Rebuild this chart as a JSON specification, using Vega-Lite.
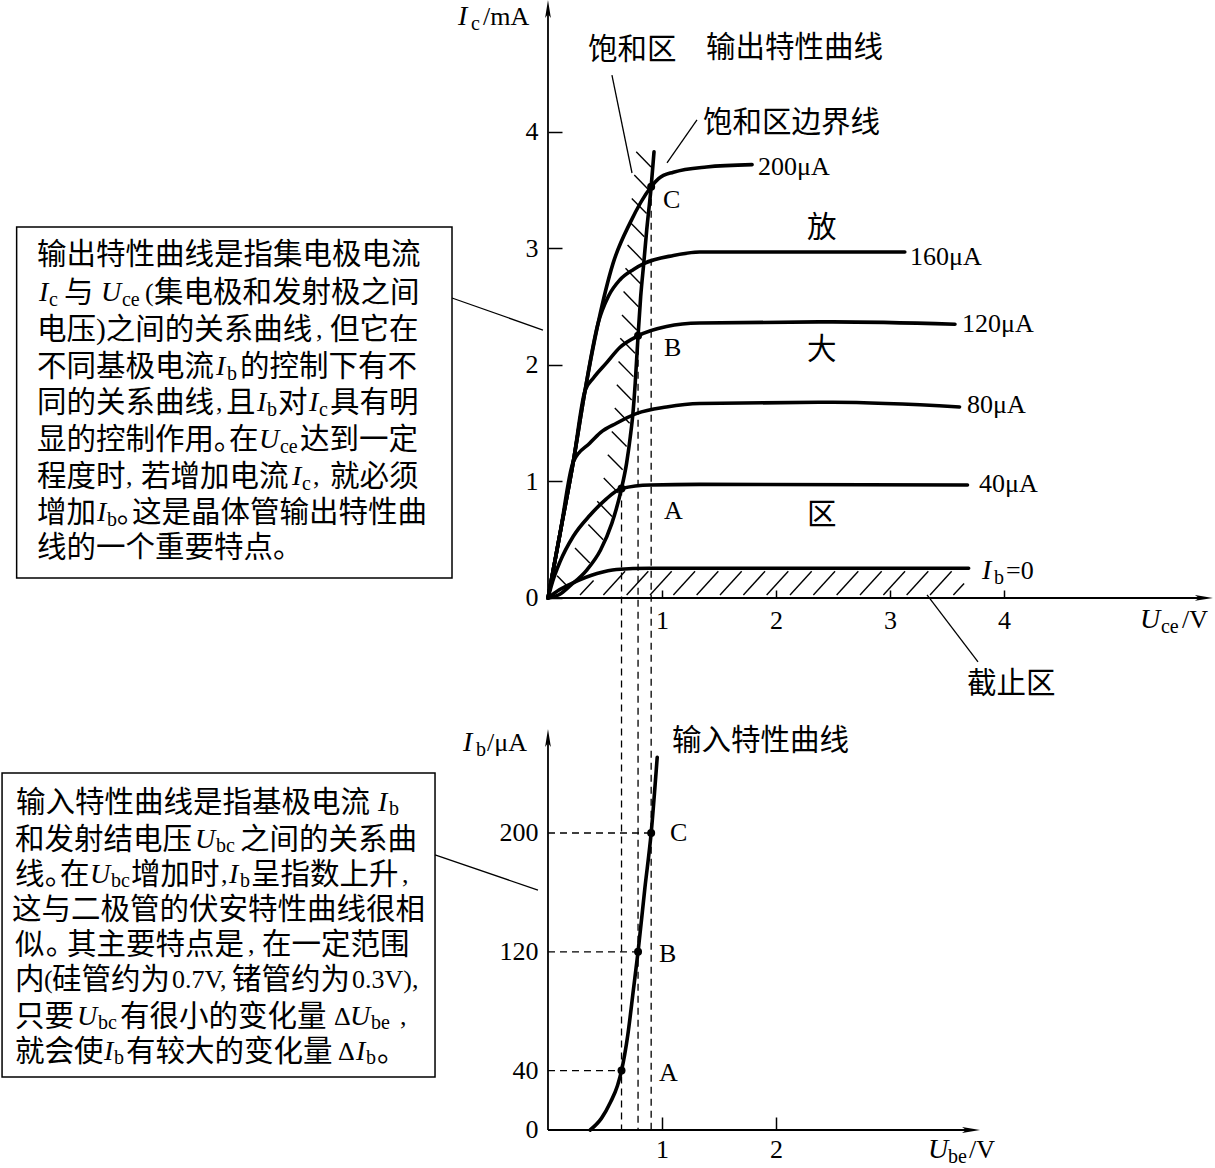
{
"$schema": "https://vega.github.io/schema/vega-lite/v6.json",
"width": 1215, "height": 1168, "autosize": {"type": "none"}, "padding": 0,
"background": "white",
"config": {"view": {"stroke": null}, "axis": {"domain": false, "grid": false, "labelFont": "Liberation Serif", "labelFontSize": 26, "labelColor": "black", "tickColor": "black", "tickWidth": 1.5, "zindex": 1}},
"datasets": {
"curvesTop": [
{"c":"200","x":0,"y":0},{"c":"200","x":0.105,"y":0.55},{"c":"200","x":0.222,"y":1.17},{"c":"200","x":0.325,"y":1.78},{"c":"200","x":0.44,"y":2.36},{"c":"200","x":0.57,"y":2.87},{"c":"200","x":0.72,"y":3.22},{"c":"200","x":0.905,"y":3.53},{"c":"200","x":0.97,"y":3.6},{"c":"200","x":1.1,"y":3.655},{"c":"200","x":1.39,"y":3.7},{"c":"200","x":1.79,"y":3.72},
{"c":"160","x":0,"y":0},{"c":"160","x":0.105,"y":0.55},{"c":"160","x":0.222,"y":1.17},{"c":"160","x":0.325,"y":1.78},{"c":"160","x":0.44,"y":2.36},{"c":"160","x":0.53,"y":2.59},{"c":"160","x":0.63,"y":2.73},{"c":"160","x":0.75,"y":2.82},{"c":"160","x":0.84,"y":2.87},{"c":"160","x":1.1,"y":2.94},{"c":"160","x":1.33,"y":2.97},{"c":"160","x":3.13,"y":2.97},
{"c":"120","x":0,"y":0},{"c":"120","x":0.105,"y":0.55},{"c":"120","x":0.222,"y":1.17},{"c":"120","x":0.325,"y":1.78},{"c":"120","x":0.4,"y":1.89},{"c":"120","x":0.515,"y":2.02},{"c":"120","x":0.63,"y":2.15},{"c":"120","x":0.79,"y":2.25},{"c":"120","x":1.04,"y":2.33},{"c":"120","x":1.33,"y":2.36},{"c":"120","x":2.5,"y":2.37},{"c":"120","x":3.57,"y":2.35},
{"c":"80","x":0,"y":0},{"c":"80","x":0.105,"y":0.55},{"c":"80","x":0.222,"y":1.17},{"c":"80","x":0.368,"y":1.33},{"c":"80","x":0.46,"y":1.42},{"c":"80","x":0.6,"y":1.5},{"c":"80","x":0.78,"y":1.585},{"c":"80","x":1.04,"y":1.64},{"c":"80","x":1.33,"y":1.67},{"c":"80","x":2.5,"y":1.68},{"c":"80","x":3.61,"y":1.64},
{"c":"40","x":0,"y":0},{"c":"40","x":0.04,"y":0.14},{"c":"40","x":0.105,"y":0.31},{"c":"40","x":0.222,"y":0.53},{"c":"40","x":0.368,"y":0.71},{"c":"40","x":0.5,"y":0.84},{"c":"40","x":0.645,"y":0.94},{"c":"40","x":0.9,"y":0.97},{"c":"40","x":1.33,"y":0.975},{"c":"40","x":3.68,"y":0.97},
{"c":"0","x":0,"y":0},{"c":"0","x":0.1,"y":0.07},{"c":"0","x":0.22,"y":0.13},{"c":"0","x":0.43,"y":0.21},{"c":"0","x":0.6,"y":0.245},{"c":"0","x":0.89,"y":0.255},{"c":"0","x":3.69,"y":0.255},
{"c":"bd","x":0,"y":0},{"c":"bd","x":0.1,"y":0.03},{"c":"bd","x":0.2,"y":0.11},{"c":"bd","x":0.34,"y":0.24},{"c":"bd","x":0.46,"y":0.41},{"c":"bd","x":0.56,"y":0.64},{"c":"bd","x":0.645,"y":0.94},{"c":"bd","x":0.69,"y":1.16},{"c":"bd","x":0.722,"y":1.385},{"c":"bd","x":0.745,"y":1.585},{"c":"bd","x":0.765,"y":1.843},{"c":"bd","x":0.79,"y":2.25},{"c":"bd","x":0.813,"y":2.586},{"c":"bd","x":0.84,"y":2.873},{"c":"bd","x":0.866,"y":3.159},{"c":"bd","x":0.905,"y":3.53},{"c":"bd","x":0.93,"y":3.83}
],
"axesTop": [{"x":0,"y":0,"x2":0,"y2":5.05},{"x":0,"y":0,"x2":5.75,"y2":0}],
"dashTop": [{"x":0.645,"y":0.94,"x2":0.645,"y2":-4.567},{"x":0.79,"y":2.25,"x2":0.79,"y2":-4.567},{"x":0.905,"y":3.53,"x2":0.905,"y2":-4.567}],
"thinTop": [
{"x":-0.842,"y":2.575,"x2":-0.044,"y2":2.3},
{"x":0.561,"y":4.489,"x2":0.737,"y2":3.648},
{"x":1.307,"y":4.103,"x2":1.044,"y2":3.734},
{"x":3.325,"y":0.026,"x2":3.772,"y2":-0.549}
],
"hatchTop": [
{"x":0.281,"y":0.025,"x2":0.4,"y2":0.15},{"x":0.486,"y":0.025,"x2":0.676,"y2":0.23},{"x":0.69,"y":0.025,"x2":0.88,"y2":0.23},{"x":0.895,"y":0.025,"x2":1.085,"y2":0.23},{"x":1.1,"y":0.025,"x2":1.29,"y2":0.23},{"x":1.304,"y":0.025,"x2":1.494,"y2":0.23},{"x":1.509,"y":0.025,"x2":1.699,"y2":0.23},{"x":1.714,"y":0.025,"x2":1.904,"y2":0.23},{"x":1.918,"y":0.025,"x2":2.108,"y2":0.23},{"x":2.123,"y":0.025,"x2":2.313,"y2":0.23},{"x":2.328,"y":0.025,"x2":2.518,"y2":0.23},{"x":2.532,"y":0.025,"x2":2.722,"y2":0.23},{"x":2.737,"y":0.025,"x2":2.927,"y2":0.23},{"x":2.942,"y":0.025,"x2":3.132,"y2":0.23},{"x":3.146,"y":0.025,"x2":3.336,"y2":0.23},{"x":3.351,"y":0.025,"x2":3.541,"y2":0.23},{"x":3.556,"y":0.025,"x2":3.65,"y2":0.125},
{"x":0.08,"y":0.19,"x2":0.17,"y2":0.1},{"x":0.237,"y":0.43,"x2":0.367,"y2":0.3},{"x":0.354,"y":0.63,"x2":0.484,"y2":0.5},{"x":0.432,"y":0.83,"x2":0.562,"y2":0.7},{"x":0.489,"y":1.03,"x2":0.619,"y2":0.9},{"x":0.525,"y":1.23,"x2":0.655,"y2":1.1},{"x":0.56,"y":1.43,"x2":0.69,"y2":1.3},{"x":0.586,"y":1.63,"x2":0.716,"y2":1.5},{"x":0.604,"y":1.83,"x2":0.734,"y2":1.7},{"x":0.619,"y":2.03,"x2":0.749,"y2":1.9},{"x":0.634,"y":2.23,"x2":0.764,"y2":2.1},{"x":0.649,"y":2.43,"x2":0.779,"y2":2.3},{"x":0.663,"y":2.63,"x2":0.793,"y2":2.5},{"x":0.68,"y":2.83,"x2":0.81,"y2":2.7},{"x":0.698,"y":3.03,"x2":0.828,"y2":2.9},{"x":0.715,"y":3.23,"x2":0.845,"y2":3.1},{"x":0.735,"y":3.43,"x2":0.865,"y2":3.3},{"x":0.757,"y":3.63,"x2":0.887,"y2":3.5},{"x":0.774,"y":3.83,"x2":0.904,"y2":3.7}
],
"boxTop": [{"x":-4.661,"x2":-0.842,"y":3.185,"y2":0.172}],
"dotsTop": [{"x":0.645,"y":0.94},{"x":0.79,"y":2.25},{"x":0.905,"y":3.53}],
"arrowUpTop": [{"x":0,"y":5.056}],
"arrowRightTop": [{"x":5.754,"y":0}],
"cjkTop": [
{"x":0.351,"y":4.704,"t":"饱和区"},{"x":1.386,"y":4.721,"t":"输出特性曲线"},{"x":1.36,"y":4.077,"t":"饱和区边界线"},
{"x":2.272,"y":3.176,"t":"放"},{"x":2.272,"y":2.129,"t":"大"},{"x":2.272,"y":0.712,"t":"区"},{"x":3.675,"y":-0.738,"t":"截止区"},
{"x":-4.482,"y":2.944,"t":"输出特性曲线是指集电极电流"},
{"x":-4.246,"y":2.618,"t":"与"},{"x":-3.456,"y":2.618,"t":"集电极和发射极之间"},
{"x":-4.482,"y":2.3,"t":"电压)之间的关系曲线"},{"x":-1.912,"y":2.3,"t":"但它在"},
{"x":-4.482,"y":1.983,"t":"不同基极电流"},{"x":-2.702,"y":1.983,"t":"的控制下有不"},
{"x":-4.482,"y":1.674,"t":"同的关系曲线"},{"x":-2.825,"y":1.674,"t":"且"},{"x":-2.368,"y":1.674,"t":"对"},{"x":-1.912,"y":1.674,"t":"具有明"},
{"x":-4.482,"y":1.356,"t":"显的控制作用"},{"x":-2.93,"y":1.356,"t":"｡"},{"x":-2.798,"y":1.356,"t":"在"},{"x":-2.175,"y":1.356,"t":"达到一定"},
{"x":-4.482,"y":1.039,"t":"程度时"},{"x":-3.57,"y":1.039,"t":"若增加电流"},{"x":-1.912,"y":1.039,"t":"就必须"},
{"x":-4.482,"y":0.73,"t":"增加"},{"x":-3.781,"y":0.73,"t":"｡"},{"x":-3.649,"y":0.73,"t":"这是晶体管输出特性曲"},
{"x":-4.482,"y":0.429,"t":"线的一个重要特点。"}
],
"rmTop": [
{"x":1.842,"y":3.7,"t":"200μA"},{"x":3.175,"y":2.927,"t":"160μA"},{"x":3.632,"y":2.352,"t":"120μA"},{"x":3.675,"y":1.657,"t":"80μA"},{"x":3.781,"y":0.979,"t":"40μA"},
{"x":-0.57,"y":4.987,"t":"/mA"},{"x":5.561,"y":-0.189,"t":"/V"},{"x":4.018,"y":0.232,"t":"=0"},
{"x":1.009,"y":3.416,"t":"C"},{"x":1.018,"y":2.146,"t":"B"},{"x":1.018,"y":0.747,"t":"A"},
{"x":-3.535,"y":2.618,"t":"("},{"x":-2.035,"y":2.3,"t":","},{"x":-2.912,"y":1.674,"t":","},{"x":-3.702,"y":1.039,"t":","},{"x":-2.061,"y":1.039,"t":","}
],
"itTop": [
{"x":-0.789,"y":4.987,"t":"I"},{"x":5.193,"y":-0.189,"t":"U"},{"x":3.807,"y":0.232,"t":"I"},
{"x":-4.465,"y":2.618,"t":"I"},{"x":-3.921,"y":2.618,"t":"U"},{"x":-2.912,"y":1.983,"t":"I"},{"x":-2.553,"y":1.674,"t":"I"},{"x":-2.096,"y":1.674,"t":"I"},{"x":-2.535,"y":1.356,"t":"U"},{"x":-2.246,"y":1.039,"t":"I"},{"x":-3.956,"y":0.73,"t":"I"}
],
"subTop": [
{"x":-0.675,"y":4.927,"t":"c"},{"x":5.377,"y":-0.249,"t":"ce"},{"x":3.912,"y":0.172,"t":"b"},
{"x":-4.377,"y":2.558,"t":"c"},{"x":-3.737,"y":2.558,"t":"ce"},{"x":-2.816,"y":1.923,"t":"b"},{"x":-2.465,"y":1.614,"t":"b"},{"x":-2.009,"y":1.614,"t":"c"},{"x":-2.351,"y":1.296,"t":"ce"},{"x":-2.158,"y":0.979,"t":"c"},{"x":-3.868,"y":0.67,"t":"b"}
],
"curveBot": [{"x":0.37,"y":0},{"x":0.47,"y":8},{"x":0.55,"y":19},{"x":0.61,"y":30},{"x":0.645,"y":40},{"x":0.7,"y":64},{"x":0.75,"y":95},{"x":0.79,"y":120},{"x":0.85,"y":163},{"x":0.905,"y":200},{"x":0.958,"y":251}],
"axesBot": [{"x":0,"y":0,"x2":0,"y2":264},{"x":0,"y":0,"x2":3.711,"y2":0}],
"dashBot": [{"x":0,"y":40,"x2":0.645,"y2":40},{"x":0,"y":120,"x2":0.79,"y2":120},{"x":0,"y":200,"x2":0.905,"y2":200}],
"thinBot": [{"x":-0.991,"y":185.2,"x2":-0.088,"y2":161.6}],
"boxBot": [{"x":-4.789,"x2":-0.991,"y":240.4,"y2":35.7}],
"dotsBot": [{"x":0.645,"y":40},{"x":0.79,"y":120},{"x":0.905,"y":200}],
"arrowUpBot": [{"x":0,"y":264}],
"arrowRightBot": [{"x":3.711,"y":0}],
"cjkBot": [
{"x":1.088,"y":262,"t":"输入特性曲线"},
{"x":-4.667,"y":220.2,"t":"输入特性曲线是指基极电流"},
{"x":-4.675,"y":195.3,"t":"和发射结电压"},{"x":-2.702,"y":195.3,"t":"之间的关系曲"},
{"x":-4.675,"y":171.7,"t":"线"},{"x":-4.412,"y":171.7,"t":"｡"},{"x":-4.281,"y":171.7,"t":"在"},{"x":-3.658,"y":171.7,"t":"增加时"},{"x":-2.605,"y":171.7,"t":"呈指数上升"},
{"x":-4.702,"y":148.1,"t":"这与二极管的伏安特性曲线很相"},
{"x":-4.675,"y":124.6,"t":"似"},{"x":-4.404,"y":124.6,"t":"｡"},{"x":-4.219,"y":124.6,"t":"其主要特点是"},{"x":-2.509,"y":124.6,"t":"在一定范围"},
{"x":-4.675,"y":101,"t":"内"},{"x":-4.351,"y":101,"t":"硅管约为"},{"x":-2.772,"y":101,"t":"锗管约为"},
{"x":-4.675,"y":76.1,"t":"只要"},{"x":-3.754,"y":76.1,"t":"有很小的变化量"},
{"x":-4.675,"y":52.5,"t":"就会使"},{"x":-3.702,"y":52.5,"t":"有较大的变化量"},{"x":-1.5,"y":52.5,"t":"。"}
],
"rmBot": [
{"x":1.07,"y":200,"t":"C"},{"x":0.974,"y":118.5,"t":"B"},{"x":0.974,"y":38.4,"t":"A"},
{"x":-0.535,"y":260.6,"t":"/μA"},{"x":3.693,"y":-13.5,"t":"/V"},
{"x":-2.868,"y":171.7,"t":","},{"x":-1.281,"y":171.7,"t":","},{"x":-2.632,"y":124.6,"t":","},
{"x":-4.421,"y":101,"t":"("},{"x":-3.298,"y":101,"t":"0.7V,"},{"x":-1.719,"y":101,"t":"0.3V),"},
{"x":-1.877,"y":76.1,"t":"Δ"},{"x":-1.298,"y":76.1,"t":","},{"x":-1.842,"y":52.5,"t":"Δ"}
],
"itBot": [
{"x":-0.746,"y":260.6,"t":"I"},{"x":3.333,"y":-13.5,"t":"U"},
{"x":-1.491,"y":220.2,"t":"I"},{"x":-3.096,"y":195.3,"t":"U"},{"x":-4.018,"y":171.7,"t":"U"},{"x":-2.798,"y":171.7,"t":"I"},{"x":-4.132,"y":76.1,"t":"U"},{"x":-1.737,"y":76.1,"t":"U"},{"x":-3.895,"y":52.5,"t":"I"},{"x":-1.684,"y":52.5,"t":"I"}
],
"subBot": [
{"x":-0.632,"y":255.9,"t":"b"},{"x":3.509,"y":-18.2,"t":"be"},
{"x":-1.395,"y":216.2,"t":"b"},{"x":-2.912,"y":191.3,"t":"bc"},{"x":-3.833,"y":167.7,"t":"bc"},{"x":-2.702,"y":167.7,"t":"b"},{"x":-3.947,"y":72.1,"t":"bc"},{"x":-1.553,"y":72.1,"t":"be"},{"x":-3.807,"y":48.5,"t":"b"},{"x":-1.596,"y":48.5,"t":"b"}
]
},
"layer": [
{
"encoding": {
"x": {"field": "x", "type": "quantitative", "scale": {"domain": [-4.807, 5.851], "nice": false, "zero": false}, "axis": {"orient": "bottom", "offset": -570, "values": [1, 2, 3, 4], "tickSize": -8, "labelPadding": 17, "title": null}},
"y": {"field": "y", "type": "quantitative", "scale": {"domain": [-4.893, 5.133], "nice": false, "zero": false}, "axis": {"orient": "left", "offset": -548, "values": [0, 1, 2, 3, 4], "tickSize": -14, "labelPadding": 24, "title": null}}
},
"layer": [
{"data": {"name": "boxTop"}, "mark": {"type": "rect", "fill": "transparent", "stroke": "black", "strokeWidth": 1.5}, "encoding": {"x2": {"field": "x2"}, "y2": {"field": "y2"}}},
{"data": {"name": "hatchTop"}, "mark": {"type": "rule", "color": "black", "strokeWidth": 1.4}, "encoding": {"x2": {"field": "x2"}, "y2": {"field": "y2"}}},
{"data": {"name": "thinTop"}, "mark": {"type": "rule", "color": "black", "strokeWidth": 1.3}, "encoding": {"x2": {"field": "x2"}, "y2": {"field": "y2"}}},
{"data": {"name": "dashTop"}, "mark": {"type": "rule", "color": "black", "strokeWidth": 1.3, "strokeDash": [7, 5]}, "encoding": {"x2": {"field": "x2"}, "y2": {"field": "y2"}}},
{"data": {"name": "axesTop"}, "mark": {"type": "rule", "color": "black", "strokeWidth": 1.8}, "encoding": {"x2": {"field": "x2"}, "y2": {"field": "y2"}}},
{"data": {"name": "curvesTop"}, "mark": {"type": "line", "color": "black", "strokeWidth": 3.6, "interpolate": "monotone", "strokeCap": "round", "strokeJoin": "round"}, "encoding": {"detail": {"field": "c"}}},
{"data": {"name": "dotsTop"}, "mark": {"type": "point", "shape": "circle", "filled": true, "size": 64, "color": "black", "opacity": 1}},
{"data": {"name": "arrowUpTop"}, "mark": {"type": "point", "shape": "M0,-1L-0.32,1L0,0.55L0.32,1Z", "filled": true, "size": 324, "color": "black", "opacity": 1}},
{"data": {"name": "arrowRightTop"}, "mark": {"type": "point", "shape": "M1,0L-1,-0.32L-0.55,0L-1,0.32Z", "filled": true, "size": 324, "color": "black", "opacity": 1}},
{"data": {"name": "cjkTop"}, "mark": {"type": "text", "font": "'Liberation Serif', 'Noto Sans CJK SC'", "fontSize": 29.5, "align": "left", "baseline": "middle", "color": "black"}, "encoding": {"text": {"field": "t"}}},
{"data": {"name": "rmTop"}, "mark": {"type": "text", "font": "Liberation Serif", "fontSize": 26, "align": "left", "baseline": "middle", "color": "black"}, "encoding": {"text": {"field": "t"}}},
{"data": {"name": "itTop"}, "mark": {"type": "text", "font": "Liberation Serif", "fontStyle": "italic", "fontSize": 28, "align": "left", "baseline": "middle", "color": "black"}, "encoding": {"text": {"field": "t"}}},
{"data": {"name": "subTop"}, "mark": {"type": "text", "font": "Liberation Serif", "fontSize": 20, "align": "left", "baseline": "middle", "color": "black"}, "encoding": {"text": {"field": "t"}}}
]
},
{
"encoding": {
"x": {"field": "x", "type": "quantitative", "scale": {"domain": [-4.807, 5.851], "nice": false, "zero": false}, "axis": {"orient": "bottom", "offset": -38, "values": [1, 2], "tickSize": -13, "labelPadding": 19, "title": null}},
"y": {"field": "y", "type": "quantitative", "scale": {"domain": [-25.59, 760.94], "nice": false, "zero": false}, "axis": {"orient": "left", "offset": -548, "values": [0, 40, 120, 200], "ticks": false, "labelPadding": 10, "title": null}}
},
"layer": [
{"data": {"name": "boxBot"}, "mark": {"type": "rect", "fill": "transparent", "stroke": "black", "strokeWidth": 1.5}, "encoding": {"x2": {"field": "x2"}, "y2": {"field": "y2"}}},
{"data": {"name": "thinBot"}, "mark": {"type": "rule", "color": "black", "strokeWidth": 1.3}, "encoding": {"x2": {"field": "x2"}, "y2": {"field": "y2"}}},
{"data": {"name": "dashBot"}, "mark": {"type": "rule", "color": "black", "strokeWidth": 1.3, "strokeDash": [7, 5]}, "encoding": {"x2": {"field": "x2"}, "y2": {"field": "y2"}}},
{"data": {"name": "axesBot"}, "mark": {"type": "rule", "color": "black", "strokeWidth": 1.8}, "encoding": {"x2": {"field": "x2"}, "y2": {"field": "y2"}}},
{"data": {"name": "curveBot"}, "mark": {"type": "line", "color": "black", "strokeWidth": 3.6, "interpolate": "monotone", "strokeCap": "round"}, "encoding": {}},
{"data": {"name": "dotsBot"}, "mark": {"type": "point", "shape": "circle", "filled": true, "size": 64, "color": "black", "opacity": 1}},
{"data": {"name": "arrowUpBot"}, "mark": {"type": "point", "shape": "M0,-1L-0.32,1L0,0.55L0.32,1Z", "filled": true, "size": 324, "color": "black", "opacity": 1}},
{"data": {"name": "arrowRightBot"}, "mark": {"type": "point", "shape": "M1,0L-1,-0.32L-0.55,0L-1,0.32Z", "filled": true, "size": 324, "color": "black", "opacity": 1}},
{"data": {"name": "cjkBot"}, "mark": {"type": "text", "font": "'Liberation Serif', 'Noto Sans CJK SC'", "fontSize": 29.5, "align": "left", "baseline": "middle", "color": "black"}, "encoding": {"text": {"field": "t"}}},
{"data": {"name": "rmBot"}, "mark": {"type": "text", "font": "Liberation Serif", "fontSize": 26, "align": "left", "baseline": "middle", "color": "black"}, "encoding": {"text": {"field": "t"}}},
{"data": {"name": "itBot"}, "mark": {"type": "text", "font": "Liberation Serif", "fontStyle": "italic", "fontSize": 28, "align": "left", "baseline": "middle", "color": "black"}, "encoding": {"text": {"field": "t"}}},
{"data": {"name": "subBot"}, "mark": {"type": "text", "font": "Liberation Serif", "fontSize": 20, "align": "left", "baseline": "middle", "color": "black"}, "encoding": {"text": {"field": "t"}}}
]
}
],
"resolve": {"scale": {"x": "independent", "y": "independent"}}
}
